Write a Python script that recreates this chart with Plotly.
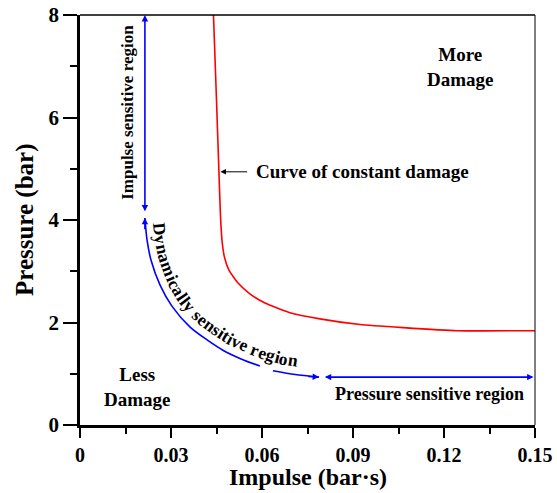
import numpy as np
import plotly.graph_objects as go

# ---------------- data ----------------
red_impulse = [0.0440, 0.0450, 0.0458, 0.0463, 0.0468, 0.0476, 0.0491, 0.0521, 0.0560,
               0.0610, 0.0692, 0.0791, 0.0923, 0.1065, 0.1243, 0.1500]
red_pressure = [8.00, 6.34, 4.94, 4.10, 3.61, 3.28, 3.02, 2.77, 2.56,
                2.38, 2.19, 2.07, 1.96, 1.90, 1.84, 1.84]

dyn_impulse = [0.0214, 0.0221, 0.0234, 0.0264, 0.0303, 0.0363, 0.0419, 0.0471, 0.0531,
               0.0593, None, 0.0636, 0.0709, 0.0788]
dyn_pressure = [4.04, 3.61, 3.22, 2.73, 2.32, 1.91, 1.66, 1.46, 1.29,
                1.15, None, 1.06, 0.985, 0.935]

impulse_region_x = 0.0214
impulse_region_y = [8.0, 4.14]
pressure_region_x = [0.0807, 0.15]
pressure_region_y = 0.935

x_ticks = [0, 0.03, 0.06, 0.09, 0.12, 0.15]
x_ticktext = ["0", "0.03", "0.06", "0.09", "0.12", "0.15"]
y_ticks = [0, 2, 4, 6, 8]
y_ticktext = ["0", "2", "4", "6", "8"]

# ---------------- layout constants ----------------
W, H = 557, 493
ML, MR, MT, MB = 80, 22, 15, 68
XR = [0, 0.15]
YR = [0, 8]
FONT = "Liberation Serif"
BLUE = "#0000ff"
RED = "#ff0000"

fig = go.Figure()
fig.add_trace(go.Scatter(x=red_impulse, y=red_pressure, mode="lines",
                         line=dict(color=RED, width=1.6, shape="spline", smoothing=0.5),
                         showlegend=False, hoverinfo="skip"))
fig.add_trace(go.Scatter(x=dyn_impulse, y=dyn_pressure, mode="lines",
                         line=dict(color=BLUE, width=1.6, shape="spline", smoothing=0.8),
                         showlegend=False, hoverinfo="skip", connectgaps=False))

ann = []


def arrow(x, y, ax, ay, color, both=False, width=1.6, size=0.8):
    ann.append(dict(x=x, y=y, ax=ax, ay=ay, xref="x", yref="y", axref="x", ayref="y",
                    text="", showarrow=True, arrowhead=2, arrowsize=size, arrowwidth=width,
                    arrowcolor=color, arrowside="end+start" if both else "end",
                    startarrowhead=2, startarrowsize=size, standoff=0, startstandoff=0))


# impulse-sensitive vertical double arrow
arrow(impulse_region_x, impulse_region_y[0], impulse_region_x, impulse_region_y[1], BLUE, both=True)
# arrow heads on dynamic curve
xs = [v for v in dyn_impulse if v is not None]
ys = [v for v in dyn_pressure if v is not None]
arrow(xs[0], ys[0], xs[0], ys[0] - 0.25, BLUE)
arrow(xs[-1], ys[-1], xs[-1] - 0.004, ys[-1] + 0.012, BLUE)
# pressure-sensitive double arrow
arrow(pressure_region_x[0], pressure_region_y, pressure_region_x[1], pressure_region_y, BLUE, both=True)
# curve of constant damage pointer
arrow(0.0463, 4.94, 0.0556, 4.94, "black", width=1.0, size=1.1)


def txt(x, y, s, size, angle=0, xanchor="center", xref="x", yref="y"):
    ann.append(dict(x=x, y=y, xref=xref, yref=yref, text=s, showarrow=False, textangle=angle,
                    xanchor=xanchor, yanchor="middle", borderpad=0,
                    font=dict(family=FONT, size=size, color="black", weight="bold")))


txt(0.0577, 4.94, "Curve of constant damage", 19, xanchor="left")
txt(0.1253, 6.99, "More<br>Damage", 19)
txt(0.0188, 0.75, "Less<br>Damage", 19)
txt(0.1151, 0.60, "Pressure sensitive region", 18)
txt(0.0158, 6.11, "Impulse sensitive region", 17, angle=-90)
# axis titles
ph = H - MT - MB
pw = W - ML - MR
txt(0.5, -(477 - (H - MB)) / ph, "Impulse (bar·s)", 24, xref="paper", yref="paper")
txt(-(ML - 25) / pw, 0.5, "Pressure (bar)", 25, angle=-90, xref="paper", yref="paper")


# ---- curved label along the dynamic curve ----
def to_px(x, y):
    return (ML + (np.asarray(x) - XR[0]) / (XR[1] - XR[0]) * pw,
            MT + (YR[1] - np.asarray(y)) / (YR[1] - YR[0]) * ph)


def to_data(px, py):
    return (XR[0] + (px - ML) / pw * (XR[1] - XR[0]),
            YR[1] - (py - MT) / ph * (YR[1] - YR[0]))


bx, by = to_px(np.array(xs), np.array(ys))
seg = np.hypot(np.diff(bx), np.diff(by))
s = np.concatenate([[0], np.cumsum(seg)])
sd = np.linspace(0, s[-1], 600)
dx_ = np.interp(sd, s, bx)
dy_ = np.interp(sd, s, by)
k = 41
kern = np.ones(k) / k
pad = k // 2
sx = np.convolve(np.pad(dx_, pad, mode="edge"), kern, mode="valid")
sy = np.convolve(np.pad(dy_, pad, mode="edge"), kern, mode="valid")
tx = np.gradient(sx)
ty = np.gradient(sy)
nrm = np.hypot(tx, ty)
tx, ty = tx / nrm, ty / nrm
OFF = 13.5
ox = sx + ty * OFF
oy = sy - tx * OFF
os_ = np.concatenate([[0], np.cumsum(np.hypot(np.diff(ox), np.diff(oy)))])

widths = {"D": 722, "y": 500, "n": 556, "a": 500, "m": 833, "i": 278, "c": 444, "l": 278,
          " ": 250, "s": 389, "e": 444, "t": 333, "v": 500, "r": 444, "g": 500, "o": 500}
label = "Dynamically sensitive region"
FS = 17.5
pos = 4.0
for ch in label:
    w = widths.get(ch, 500) / 1000 * FS
    c = pos + w / 2
    if ch != " ":
        cx = np.interp(c, os_, ox)
        cy = np.interp(c, os_, oy)
        ttx = np.interp(c, os_, tx)
        tty = np.interp(c, os_, ty)
        ang = float(np.degrees(np.arctan2(tty, ttx)))
        X, Y = to_data(cx, cy)
        ann.append(dict(x=float(X), y=float(Y), xref="x", yref="y", text=ch, showarrow=False,
                        textangle=ang, xanchor="center", yanchor="middle",
                        font=dict(family=FONT, size=FS, color="black", weight="bold")))
    pos += w

shapes = [
    dict(type="line", xref="paper", yref="paper", x0=0, x1=1, y0=1, y1=1,
         line=dict(color="black", width=1.5)),
    dict(type="line", xref="paper", yref="paper", x0=1, x1=1, y0=0, y1=1,
         line=dict(color="black", width=1.0)),
]

fig.update_layout(
    width=W, height=H, margin=dict(l=ML, r=MR, t=MT, b=MB, autoexpand=False),
    plot_bgcolor="white", paper_bgcolor="white",
    annotations=ann, shapes=shapes, showlegend=False,
    xaxis=dict(range=XR, tickvals=x_ticks, ticktext=x_ticktext, showgrid=False, zeroline=False,
               automargin=False,
               showline=True, linecolor="black", linewidth=2.5, ticks="outside", ticklen=10,
               tickwidth=2, tickcolor="black",
               minor=dict(dtick=0.015, tick0=0, ticks="outside", ticklen=6, tickwidth=2,
                          tickcolor="black", showgrid=False),
               tickfont=dict(family=FONT, size=20, color="black", weight="bold")),
    yaxis=dict(range=YR, tickvals=y_ticks, ticktext=y_ticktext, showgrid=False, zeroline=False,
               automargin=False,
               showline=True, linecolor="black", linewidth=2.5, ticks="outside", ticklen=14,
               tickwidth=2, tickcolor="black",
               minor=dict(dtick=1, tick0=0, ticks="outside", ticklen=7, tickwidth=2,
                          tickcolor="black", showgrid=False),
               tickfont=dict(family=FONT, size=21, color="black", weight="bold")),
)

fig.write_html("out.html")
